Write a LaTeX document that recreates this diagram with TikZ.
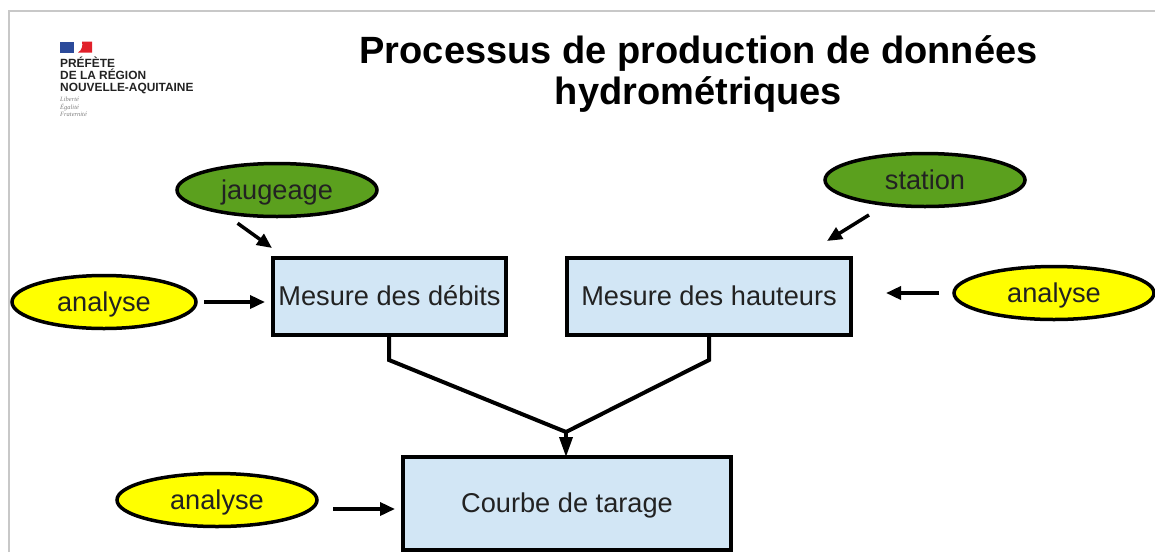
\documentclass[tikz,border=0pt]{standalone}
\usepackage{fontspec}
\setmainfont{Liberation Sans}
\newfontfamily\devise{Liberation Serif}
\usepackage{tikz}
\usetikzlibrary{positioning}
\usetikzlibrary{shapes.geometric}
\usetikzlibrary{arrows.meta}

\definecolor{boxblue}{HTML}{D2E6F5}
\definecolor{ovalgreen}{HTML}{5BA01E}
\definecolor{ovalyellow}{HTML}{FFFF00}
\definecolor{labelgrey}{HTML}{222222}
\definecolor{framegrey}{HTML}{C8C8C8}
\definecolor{flagblue}{HTML}{2B4A9A}
\definecolor{flagred}{HTML}{E1202A}

\tikzset{
    etape/.style={draw=black, line width=4.5pt, fill=boxblue, text=labelgrey,
        outer sep=0pt, inner sep=0pt, text height=20pt, text depth=2pt,
        font=\fontsize{27.2}{30}\selectfont},
    oval/.style={ellipse, draw=black, line width=3.5pt, text=labelgrey,
        outer sep=0pt, inner sep=0pt, minimum width=200pt, minimum height=53pt,
        text height=20pt, text depth=2pt,
        font=\fontsize{27.2}{30}\selectfont},
    fleche/.style={line width=3.5pt, -{Triangle[length=15pt,width=13pt]}},
    liaison/.style={line width=4pt, line join=miter}
}

\begin{document}
\begin{tikzpicture}[x=1pt, y=-1pt]

        \def\d{61pt}
        \useasboundingbox (0, 0) rectangle (1155, 552);

        % Frame of the slide
        \coordinate (F1) at (9, 552);
        \coordinate (F2) at (9, 11);
        \coordinate (F3) at (1155, 11);
        \draw[framegrey, line width=1.5pt] (F1) -- (F2) -- (F3);

        % Logo
        \fill[flagblue] (60, 41.5) rectangle (74, 52.5);
        \fill[flagred] (78, 52.5) .. controls (82, 50) and (83, 46) .. (82, 41.5) -- (92, 41.5) -- (92, 52.5) -- cycle;
        \node (L1) [anchor=north west, inner sep=0pt, align=left, text=labelgrey,
            font=\fontsize{11.9}{12}\selectfont\bfseries] at (60, 56.5)
        {PRÉFÈTE\\DE LA RÉGION\\NOUVELLE-AQUITAINE};
        \node (L2) [below=3pt of L1.south west, anchor=north west, inner sep=0pt,
            align=left, text=gray, font=\fontsize{6.5}{7.5}\selectfont\devise\itshape]
        {Liberté\\Égalité\\Fraternité};

        % Title
        \node (titre) [align=center, text=black,
            font=\fontsize{38}{41}\selectfont\bfseries] at (698.5, 74)
        {Processus de production de données\\hydrométriques};

        % Boxes
        \node (debits) [etape, minimum width=233pt, minimum height=77pt] at (389.5, 296.5)
        {Mesure des débits};
        \node (hauteurs) [etape, minimum width=284pt, minimum height=77pt, right=\d of debits]
        {Mesure des hauteurs};
        \node (courbe) [etape, minimum width=328pt, minimum height=93pt] at (567, 503.5)
        {Courbe de tarage};

        % Ovals
        \node (jaugeage) [oval, fill=ovalgreen] at (277, 190) {jaugeage};
        \node (station) [oval, fill=ovalgreen] at (925, 180) {station};
        \node (analyseA) [oval, fill=ovalyellow, minimum width=184pt] at (104, 302) {analyse};
        \node (analyseB) [oval, fill=ovalyellow] at (1054, 293) {analyse};
        \node (analyseC) [oval, fill=ovalyellow] at (217, 500) {analyse};

        % Free ends of the arrows and bends
        \coordinate (J1) at (272, 248);
        \coordinate (S1) at (827, 241);
        \coordinate (coudeA) at (389, 360);
        \coordinate (coudeB) at (709, 360);
        \coordinate (jonction) at (566, 432);

        \draw[fleche, shorten <=19pt] (jaugeage.202) -- (J1);
        \draw[fleche, shorten <=20pt] (station.212) -- (S1);
        \draw[fleche, shorten <=8pt, shorten >=8pt] (analyseA.east) -- (analyseA.east -| debits.west);
        \draw[fleche, shorten <=15pt, shorten >=35pt] (analyseB.west) -- (analyseB.west -| hauteurs.east);
        \draw[fleche, shorten <=16pt, shorten >=8pt] (analyseC.east |- 0, 509) -- (courbe.west |- 0, 509);

        \draw[liaison] (debits.south -| coudeA) -- (coudeA) -- (jonction);
        \draw[liaison] (hauteurs.south -| coudeB) -- (coudeB) -- (jonction);
        \draw[line width=3.5pt, -{Triangle[length=20pt,width=13pt]}] (jonction) -- (courbe.north -| jonction);

\end{tikzpicture}
\end{document}
